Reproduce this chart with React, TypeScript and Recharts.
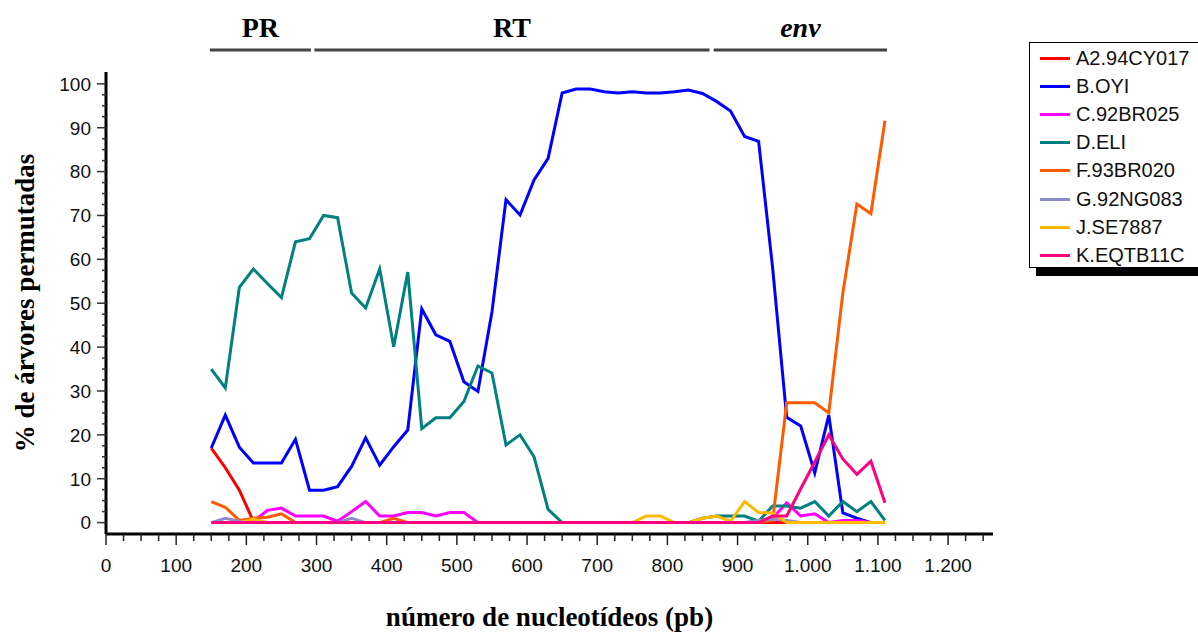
import { LineChart, Line, XAxis, YAxis, ReferenceLine, Legend } from 'recharts';

// posições (pb) das janelas
const positions = [
  150, 170, 190, 210, 230, 250, 270, 290, 310, 330,
  350, 370, 390, 410, 430, 450, 470, 490, 510, 530,
  550, 570, 590, 610, 630, 650, 670, 690, 710, 730,
  750, 770, 790, 810, 830, 850, 870, 890, 910, 930,
  950, 970, 990, 1010, 1030, 1050, 1070, 1090, 1110,
];

const a2 = [
  17, 12.5, 7.4, 0.3, 0, 0, 0, 0, 0, 0,
  0, 0, 0, 0, 0, 0, 0, 0, 0, 0,
  0, 0, 0, 0, 0, 0, 0, 0, 0, 0,
  0, 0, 0, 0, 0, 0, 0, 0, 0, 0,
  0, 0, 0, 0, 0, 0, 0, 0, 0,
];
const bOyi = [
  17, 24.5, 17.2, 13.6, 13.6, 13.6, 19, 7.4, 7.4, 8.2,
  12.8, 19.3, 13.1, 17.3, 21.1, 48.7, 42.8, 41.3, 32.1, 29.9,
  48, 73.6, 70.1, 78.1, 83, 97.9, 98.8, 98.8, 98.2, 97.9,
  98.2, 97.9, 97.9, 98.2, 98.6, 97.8, 96, 93.8, 88, 86.9,
  58, 24, 22, 11.3, 24.5, 2.2, 1, 0, null,
];
const c92 = [
  0, 0, 0, 0.3, 2.8, 3.3, 1.5, 1.5, 1.5, 0.3,
  2.5, 4.8, 1.5, 1.5, 2.3, 2.3, 1.5, 2.3, 2.3, 0,
  0, 0, 0, 0, 0, 0, 0, 0, 0, 0,
  0, 0, 0, 0, 0, 0, 0, 0, 0, 0,
  1, 4.5, 1.5, 2, 0, 0.5, 0.5, 0, 0,
];
const dEli = [
  35, 30.7, 53.6, 57.8, 54.5, 51.3, 64, 64.7, 70, 69.5,
  52.3, 48.9, 57.8, 40.1, 57.1, 21.4, 23.9, 23.9, 27.6, 35.7,
  34.1, 17.7, 20, 15, 3, 0, 0, 0, 0, 0,
  0, 0, 0, 0, 0, 1, 1.5, 1.5, 1.5, 0.3,
  3.8, 3.8, 3.3, 4.8, 1.5, 4.8, 2.5, 4.8, 0.5,
];
const f93 = [
  4.8, 3.5, 0.5, 1, 1.2, 2, 0, 0, 0, 0,
  0, 0, 0, 1, 0, 0, 0, 0, 0, 0,
  0, 0, 0, 0, 0, 0, 0, 0, 0, 0,
  0, 0, 0, 0, 0, 0, 0, 0, 0, 0,
  0.5, 27.3, 27.3, 27.3, 25, 52.3, 72.6, 70.4, 91.6,
];
const g92 = [
  0, 1, 0.3, 0, 0, 0, 0, 0, 0, 0,
  1, 0, 0, 0, 0, 0, 0, 0, 0, 0,
  0, 0, 0, 0, 0, 0, 0, 0, 0, 0,
  0, 0, 0, 0, 0, 0, 0, 0, 0, 0.5,
  0.8, 0.5, 0, 0, 0, 0, 0, 0, 0,
];
const jSe = [
  0, 0, 0, 0.8, 0, 0, 0, 0, 0, 0,
  0, 0, 0, 0, 0, 0, 0, 0, 0, 0,
  0, 0, 0, 0, 0, 0, 0, 0, 0, 0,
  0, 1.5, 1.5, 0, 0, 1, 1.5, 0.3, 4.8, 2.3,
  2.2, 0, 0, 0, 0, 0, 0, 0, 0,
];
const kEq = [
  0, 0, 0, 0, 0, 0, 0, 0, 0, 0,
  0, 0, 0, 0, 0, 0, 0, 0, 0, 0,
  0, 0, 0, 0, 0, 0, 0, 0, 0, 0,
  0, 0, 0, 0, 0, 0, 0, 0, 0, 0,
  1.5, 1.5, 7.7, 13.8, 20, 14.5, 11, 14, 4.5,
];

const series = [
  { key: 'A2', name: 'A2.94CY017', color: '#ff0000', values: a2 },
  { key: 'B', name: 'B.OYI', color: '#0000ff', values: bOyi },
  { key: 'C', name: 'C.92BR025', color: '#ff00ff', values: c92 },
  { key: 'D', name: 'D.ELI', color: '#008080', values: dEli },
  { key: 'F', name: 'F.93BR020', color: '#ff5a00', values: f93 },
  { key: 'G', name: 'G.92NG083', color: '#8c8cc8', values: g92 },
  { key: 'J', name: 'J.SE7887', color: '#ffb900', values: jSe },
  { key: 'K', name: 'K.EQTB11C', color: '#ff0080', values: kEq },
];

const xTicks = [
  0, 25, 50, 75, 100, 125, 150, 175, 200, 225, 250, 275, 300, 325, 350, 375,
  400, 425, 450, 475, 500, 525, 550, 575, 600, 625, 650, 675, 700, 725, 750, 775,
  800, 825, 850, 875, 900, 925, 950, 975, 1000, 1025, 1050, 1075, 1100, 1125,
  1150, 1175, 1200, 1225, 1250,
];
const yTicks = [
  0, 2.5, 5, 7.5, 10, 12.5, 15, 17.5, 20, 22.5, 25, 27.5, 30, 32.5, 35, 37.5,
  40, 42.5, 45, 47.5, 50, 52.5, 55, 57.5, 60, 62.5, 65, 67.5, 70, 72.5, 75, 77.5,
  80, 82.5, 85, 87.5, 90, 92.5, 95, 97.5, 100,
];

// regiões do genoma indicadas acima do gráfico
const regions = [
  { label: 'PR', from: 148, to: 292, italic: false },
  { label: 'RT', from: 297, to: 860, italic: false },
  { label: 'env', from: 866, to: 1113, italic: true },
];
const regionLevel = 107.7;

const data = positions.map((x, i) => {
  const row: any = { x };
  series.forEach((s) => {
    row[s.key] = s.values[i];
  });
  return row;
});

const serif = '"Liberation Serif", "Times New Roman", serif';
const sans = '"Liberation Sans", Arial, sans-serif';

const fmtX = (v: number) =>
  v >= 1000 ? `${Math.floor(v / 1000)}.${String(v % 1000).padStart(3, '0')}` : String(v);

const XTick = (props: any) => {
  const { x, y, payload } = props;
  const v = payload.value;
  const major = v % 100 === 0;
  return (
    <g>
      <line x1={x} x2={x} y1={y} y2={y + (major ? 11 : 7)} stroke="#222" strokeWidth={1.5} />
      {major && (
        <text x={x} y={y + 38} textAnchor="middle" fontFamily={sans} fontSize={19} fill="#111">
          {fmtX(v)}
        </text>
      )}
    </g>
  );
};

const YTick = (props: any) => {
  const { x, y, payload } = props;
  const v = payload.value;
  const major = v % 10 === 0;
  return (
    <g>
      <line x1={x} x2={x - (major ? 9 : 4)} y1={y} y2={y} stroke="#333" strokeWidth={1.5} />
      {major && (
        <text x={x - 15} y={y} dy="0.36em" textAnchor="end" fontFamily={sans} fontSize={19} fill="#111">
          {v}
        </text>
      )}
    </g>
  );
};

const LegendBox = (props: any) => {
  const { payload } = props;
  return (
    <div
      style={{
        width: 190,
        height: 226,
        border: '1px solid #000',
        background: '#fff',
        boxShadow: '7px 8px 0 #000',
        paddingTop: 1,
        boxSizing: 'border-box',
      }}
    >
      {(payload || []).map((p: any) => (
        <div key={p.value} style={{ display: 'flex', alignItems: 'center', height: 28.2 }}>
          <div style={{ width: 30, height: 3, background: p.color, marginLeft: 10, marginRight: 6 }} />
          <span style={{ fontFamily: sans, fontSize: 20, color: '#111' }}>{p.value}</span>
        </div>
      ))}
    </div>
  );
};

export default function App() {
  return (
    <div style={{ position: 'absolute', left: 0, top: 0, width: 1198, height: 635, overflow: 'hidden', background: '#fff' }}>
      <LineChart width={1198} height={635} data={data} margin={{ top: 72, right: 205, bottom: 71, left: 46 }}>
        <XAxis
          dataKey="x"
          type="number"
          domain={[0, 1264]}
          allowDataOverflow
          ticks={xTicks}
          interval={0}
          tickSize={0}
          tickMargin={0}
          tickLine={false}
          tick={<XTick />}
          height={30}
          axisLine={{ stroke: '#000', strokeWidth: 3 }}
          label={(p: any) => {
            const vb = p.viewBox;
            return (
              <text x={vb.x + vb.width / 2} y={vb.y + 92} textAnchor="middle" fontFamily={serif} fontWeight="bold" fontSize={27} fill="#000">
                número de nucleotídeos (pb)
              </text>
            );
          }}
        />
        <XAxis xAxisId="top" orientation="top" type="number" domain={[0, 1264]} height={0} tick={false} tickLine={false} axisLine={{ stroke: '#333', strokeWidth: 2 }} />
        <YAxis
          type="number"
          domain={[-2.6, 102.7]}
          allowDataOverflow
          ticks={yTicks}
          interval={0}
          tickSize={0}
          tickMargin={0}
          tickLine={false}
          tick={<YTick />}
          width={60}
          axisLine={{ stroke: '#000', strokeWidth: 3 }}
          label={(p: any) => {
            const vb = p.viewBox;
            const cx = vb.x - 21;
            const cy = vb.y + vb.height / 2;
            return (
              <text x={cx} y={cy} transform={`rotate(-90, ${cx}, ${cy})`} dy="0.35em" textAnchor="middle" fontFamily={serif} fontWeight="bold" fontSize={27} fill="#000">
                % de árvores permutadas
              </text>
            );
          }}
        />
        <YAxis yAxisId="right" orientation="right" type="number" domain={[0, 100]} width={0} tick={false} tickLine={false} axisLine={{ stroke: '#333', strokeWidth: 2 }} />
        {regions.map((r) => (
          <ReferenceLine
            key={r.label}
            segment={[
              { x: r.from, y: regionLevel },
              { x: r.to, y: regionLevel },
            ]}
            ifOverflow="visible"
            stroke="#444"
            strokeWidth={3}
            label={(p: any) => {
              const vb = p.viewBox || {};
              return (
                <text
                  x={vb.x + vb.width / 2}
                  y={vb.y - 13}
                  textAnchor="middle"
                  fontFamily={serif}
                  fontWeight="bold"
                  fontStyle={r.italic ? 'italic' : 'normal'}
                  fontSize={28}
                  fill="#000"
                >
                  {r.label}
                </text>
              );
            }}
          />
        ))}
        {series.map((s) => (
          <Line
            key={s.key}
            type="linear"
            dataKey={s.key}
            name={s.name}
            stroke={s.color}
            strokeWidth={3}
            dot={false}
            activeDot={false}
            isAnimationActive={false}
          />
        ))}
        <Legend
          layout="vertical"
          align="center"
          verticalAlign="middle"
          content={<LegendBox />}
          wrapperStyle={{ left: 1029, top: 42, width: 200, height: 240 }}
        />
      </LineChart>
    </div>
  );
}
